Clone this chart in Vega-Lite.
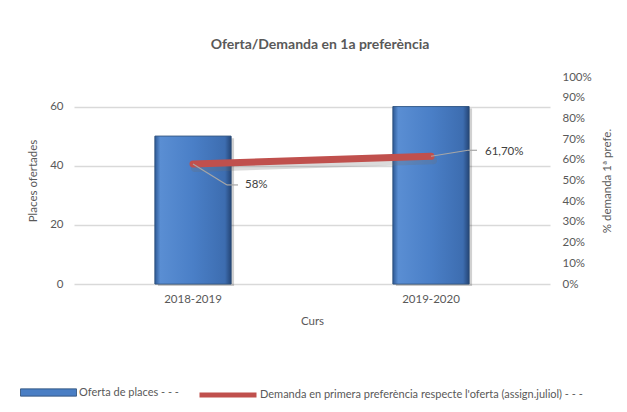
{
  "$schema": "https://vega.github.io/schema/vega-lite/v6.json",
  "width": 476,
  "height": 207,
  "autosize": {"type": "none"},
  "padding": {"left": 74, "top": 77, "right": 77, "bottom": 128},
  "background": "white",
  "title": {
    "text": "Oferta/Demanda en 1a preferència",
    "font": "Lato",
    "fontSize": 14,
    "fontWeight": "bold",
    "color": "#595959",
    "frame": "group",
    "anchor": "middle",
    "baseline": "alphabetic",
    "offset": 8,
    "dx": 8
  },
  "config": {
    "view": {"stroke": null},
    "font": "Lato",
    "axis": {
      "labelFont": "Lato",
      "labelFontSize": 11.5,
      "labelColor": "#595959",
      "titleFont": "Lato",
      "titleFontSize": 11.5,
      "titleFontWeight": "normal",
      "titleColor": "#595959",
      "ticks": false,
      "tickSize": 0,
      "domain": false
    },
    "legend": {
      "labelFont": "Lato",
      "labelFontSize": 11,
      "labelColor": "#595959",
      "labelLimit": 600
    }
  },
  "data": {
    "values": [
      {"curs": "2018-2019", "places": 50, "pct": 0.58, "label": "58%"},
      {"curs": "2019-2020", "places": 60, "pct": 0.617, "label": "61,70%"}
    ]
  },
  "encoding": {
    "x": {
      "field": "curs",
      "type": "nominal",
      "title": "Curs",
      "scale": {"paddingInner": 0, "paddingOuter": 0},
      "axis": {"labelAngle": 0, "labelPadding": 9, "titlePadding": 11, "grid": false}
    }
  },
  "layer": [
    {
      "encoding": {
        "y": {
          "field": "places",
          "type": "quantitative",
          "title": "Places ofertades",
          "scale": {"domain": [0, 70], "nice": false},
          "axis": {
            "orient": "left",
            "values": [0, 20, 40, 60],
            "grid": true,
            "gridColor": "#d9d9d9",
            "gridWidth": 1.5,
            "labelPadding": 11,
            "titleAngle": -90,
            "titleX": -41,
            "titleY": 103.5,
            "titleAlign": "center",
            "titleBaseline": "middle"
          }
        }
      },
      "layer": [
        {
          "mark": {"type": "bar", "width": {"band": 0.32}, "fill": "#000000", "opacity": 0.18, "xOffset": 3, "yOffset": 2}
        },
        {
          "mark": {"type": "bar", "width": {"band": 0.32}, "stroke": "#2c4d75", "strokeWidth": 0.6},
          "encoding": {
            "fill": {
              "datum": "Oferta de places - - -",
              "scale": {"range": ["#4a7ec4"]},
              "legend": {
                "title": null,
                "orient": "none",
                "legendX": -54,
                "legendY": 287,
                "symbolType": "M-1,-0.13L1,-0.13L1,0.13L-1,0.13Z",
                "symbolSize": 3136,
                "symbolStrokeColor": "#2c4d75",
                "symbolStrokeWidth": 0.8,
                "symbolFillColor": "#4a7ec4",
                "labelOffset": 2
              }
            }
          }
        },
        {
          "mark": {
            "type": "bar",
            "width": {"band": 0.32},
            "stroke": "#2c4d75",
            "strokeWidth": 0.6,
            "fill": {
              "gradient": "linear",
              "x1": 0, "y1": 0, "x2": 1, "y2": 0,
              "stops": [
                {"offset": 0, "color": "#2e5a96"},
                {"offset": 0.07, "color": "#5a8ed3"},
                {"offset": 0.5, "color": "#4a7fc7"},
                {"offset": 0.92, "color": "#3d6db0"},
                {"offset": 1, "color": "#254677"}
              ]
            }
          }
        }
      ]
    },
    {
      "encoding": {
        "y": {
          "field": "pct",
          "type": "quantitative",
          "title": "% demanda 1ª prefe.",
          "scale": {"domain": [0, 1], "nice": false},
          "axis": {
            "orient": "right",
            "values": [0, 0.1, 0.2, 0.3, 0.4, 0.5, 0.6, 0.7, 0.8, 0.9, 1],
            "format": ".0%",
            "grid": false,
            "labelPadding": 12,
            "titleAngle": -90,
            "titleX": 57,
            "titleY": 103.5,
            "titleAlign": "center",
            "titleBaseline": "middle"
          }
        }
      },
      "layer": [
        {
          "mark": {"type": "line", "stroke": "#6f6f6f", "opacity": 0.25, "strokeWidth": 8, "strokeCap": "round", "yOffset": 4, "xOffset": 2},
          "encoding": {}
        },
        {
          "mark": {"type": "line", "strokeWidth": 7, "strokeCap": "round"},
          "encoding": {
            "stroke": {
              "datum": "Demanda en primera preferència respecte l'oferta (assign.juliol) - - -",
              "scale": {"range": ["#c0504d"]},
              "legend": {
                "title": null,
                "orient": "none",
                "legendX": 123,
                "legendY": 287,
                "symbolType": "stroke",
                "symbolSize": 3249,
                "symbolStrokeWidth": 5,
                "labelOffset": 1
              }
            }
          }
        },
        {
          "transform": [{"filter": "datum.curs == '2018-2019'"}],
          "mark": {"type": "rule", "stroke": "#a6a6a6", "strokeWidth": 1.2, "x2Offset": 34, "y2Offset": 21},
          "encoding": {"x2": {"field": "curs"}, "y2": {"field": "pct"}}
        },
        {
          "transform": [{"filter": "datum.curs == '2018-2019'"}],
          "mark": {"type": "rule", "stroke": "#a6a6a6", "strokeWidth": 1.2, "xOffset": 34, "yOffset": 21, "x2Offset": 45, "y2Offset": 21},
          "encoding": {"x2": {"field": "curs"}, "y2": {"field": "pct"}}
        },
        {
          "transform": [{"filter": "datum.curs == '2019-2020'"}],
          "mark": {"type": "rule", "stroke": "#a6a6a6", "strokeWidth": 1.2, "x2Offset": 37, "y2Offset": -6},
          "encoding": {"x2": {"field": "curs"}, "y2": {"field": "pct"}}
        },
        {
          "transform": [{"filter": "datum.curs == '2019-2020'"}],
          "mark": {"type": "rule", "stroke": "#a6a6a6", "strokeWidth": 1.2, "xOffset": 37, "yOffset": -6, "x2Offset": 46, "y2Offset": -6},
          "encoding": {"x2": {"field": "curs"}, "y2": {"field": "pct"}}
        },
        {
          "transform": [{"filter": "datum.curs == '2018-2019'"}],
          "mark": {"type": "text", "align": "left", "baseline": "middle", "dx": 52, "dy": 21, "font": "Lato", "fontSize": 11.5, "color": "#404040"},
          "encoding": {"text": {"field": "label"}}
        },
        {
          "transform": [{"filter": "datum.curs == '2019-2020'"}],
          "mark": {"type": "text", "align": "left", "baseline": "middle", "dx": 54, "dy": -4, "font": "Lato", "fontSize": 11.5, "color": "#404040"},
          "encoding": {"text": {"field": "label"}}
        }
      ]
    }
  ],
  "resolve": {"scale": {"y": "independent"}}
}
